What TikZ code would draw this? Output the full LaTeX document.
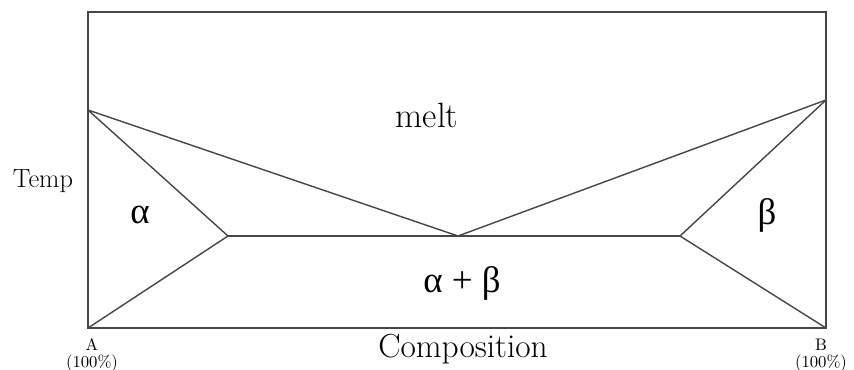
\documentclass[tikz,border=0pt]{standalone}
\usepackage{fontspec}
\usepackage{xcolor}
\usepackage{tikz}
\usetikzlibrary{positioning}
\newfontfamily\greekfont{Liberation Serif}
\definecolor{corLinha}{RGB}{70,70,70}

\begin{document}
\begin{tikzpicture}[x=0.02cm, y=-0.02cm,
          phase/.style={font=\fontsize{20}{24}\selectfont, inner sep=0pt, anchor=base},
          greek/.style={font=\greekfont\fontsize{21}{24}\selectfont, inner sep=0pt, anchor=base},
          axislabel/.style={font=\fontsize{19}{22}\selectfont, inner sep=0pt, anchor=base},
          templabel/.style={font=\fontsize{15}{18}\selectfont, inner sep=0pt, anchor=base},
          endlabel/.style={font=\fontsize{9.5}{10}\selectfont, inner sep=0pt},
          boundary/.style={-, line width=0.8pt, corLinha}]
        \useasboundingbox (0,0) rectangle (854,369);
        % frame corners and phase points
        \coordinate (bl) at (88,328);
        \coordinate (tr) at (826,12);
        \coordinate (br) at (826,328);
        \coordinate (tmA) at (88,110);
        \coordinate (tmB) at (826,100);
        \coordinate (sa) at (228,236);
        \coordinate (eu) at (458,236);
        \coordinate (sb) at (680,236);
        \draw[boundary] (bl) rectangle (tr);
        \draw[boundary] (tmA)--(eu)--(tmB);
        \draw[boundary] (tmA)--(sa)--(bl);
        \draw[boundary] (tmB)--(sb)--(br);
        \draw[boundary] (sa)--(sb);
        % labels
        \node[phase] (melt) at (427,127) {melt};
        \node[greek] (alpha) at (140,223) {α};
        \node[greek] (beta) at (767,224) {β};
        \node[greek] (mix) at (462,292) {α + β};
        \node[axislabel] (comp) at (463,357) {Composition};
        \node[templabel] (temp) at (43,187) {Temp};
        \node[endlabel] (lA) at (92,345) {A};
        \node[endlabel, below=2pt of lA] (pA) {(100\%)};
        \node[endlabel] (lB) at (821,345) {B};
        \node[endlabel, below=2pt of lB] (pB) {(100\%)};
      \end{tikzpicture}
\end{document}
